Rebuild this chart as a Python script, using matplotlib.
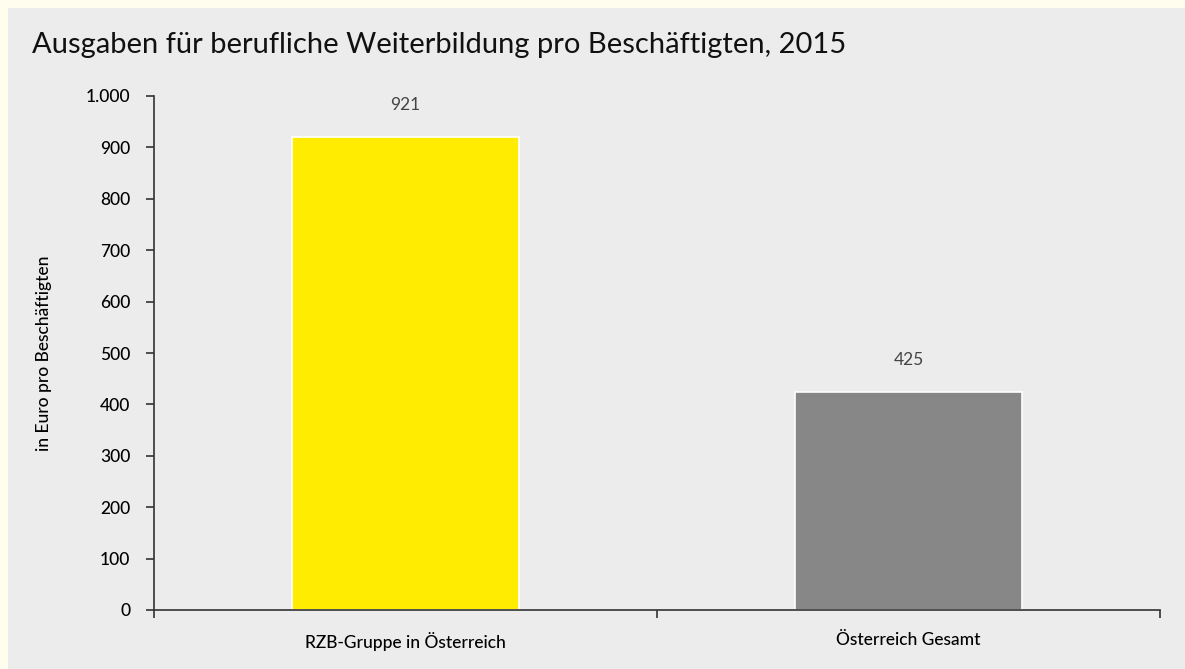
import matplotlib
matplotlib.use("Agg")
import matplotlib.pyplot as plt
from matplotlib.patches import Rectangle

# data
categories = ["RZB-Gruppe in Österreich", "Österreich Gesamt"]
values = [921, 425]
bar_colors = ["#ffec00", "#878787"]
y_ticks = [0, 100, 200, 300, 400, 500, 600, 700, 800, 900, 1000]

plt.rcParams["font.family"] = ["Lato", "DejaVu Sans"]

W, H = 1185, 669
fig = plt.figure(figsize=(W / 100, H / 100), dpi=100)
fig.patch.set_facecolor("#fffdee")
# grey panel, leaving the cream strip on top and left
fig.patches.append(Rectangle((8 / W, 0), 1, (H - 8) / H, transform=fig.transFigure,
                             facecolor="#ececec", edgecolor="none", zorder=-10))

ax = fig.add_axes([154 / W, (H - 610) / H, (1160 - 154) / W, (610 - 96) / H])
ax.set_facecolor("none")
ax.set_zorder(1)

x = list(range(len(categories)))
bars = ax.bar(x, values, width=0.45, color=bar_colors, edgecolor="white", linewidth=1.2)
for xi, v in zip(x, values):
    ax.text(xi, v + 45, str(v), ha="center", va="bottom", fontsize=12.5,
            fontweight="normal", color="#444444")

ax.set_xlim(-0.5, len(categories) - 0.5)
ax.set_ylim(0, 1000)
ax.set_yticks(y_ticks)
ax.set_yticklabels([f"{t:,}".replace(",", ".") for t in y_ticks], fontsize=12.5,
                   fontweight="medium")
ax.set_xticks(x)
ax.set_xticklabels(categories, fontsize=12.5, fontweight="medium")
ax.tick_params(axis="x", length=0, pad=16)
ax.set_xticks([i - 0.5 for i in range(len(categories) + 1)], minor=True)
ax.tick_params(axis="x", which="minor", length=6, width=1.2, color="#333333")
ax.tick_params(axis="y", length=6, width=1.2, color="#333333", pad=11)

for s in ["top", "right"]:
    ax.spines[s].set_visible(False)
for s in ["left", "bottom"]:
    ax.spines[s].set_color("#333333")
    ax.spines[s].set_linewidth(1.2)

ax.set_ylabel("in Euro pro Beschäftigten", fontsize=12.5, fontweight="medium", labelpad=24)

fig.text(32 / W, 1 - 45 / H, "Ausgaben für berufliche Weiterbildung pro Beschäftigten, 2015",
         fontsize=21, va="center", ha="left", color="#111111")

fig.savefig("out.png", dpi=100, facecolor=fig.get_facecolor())
